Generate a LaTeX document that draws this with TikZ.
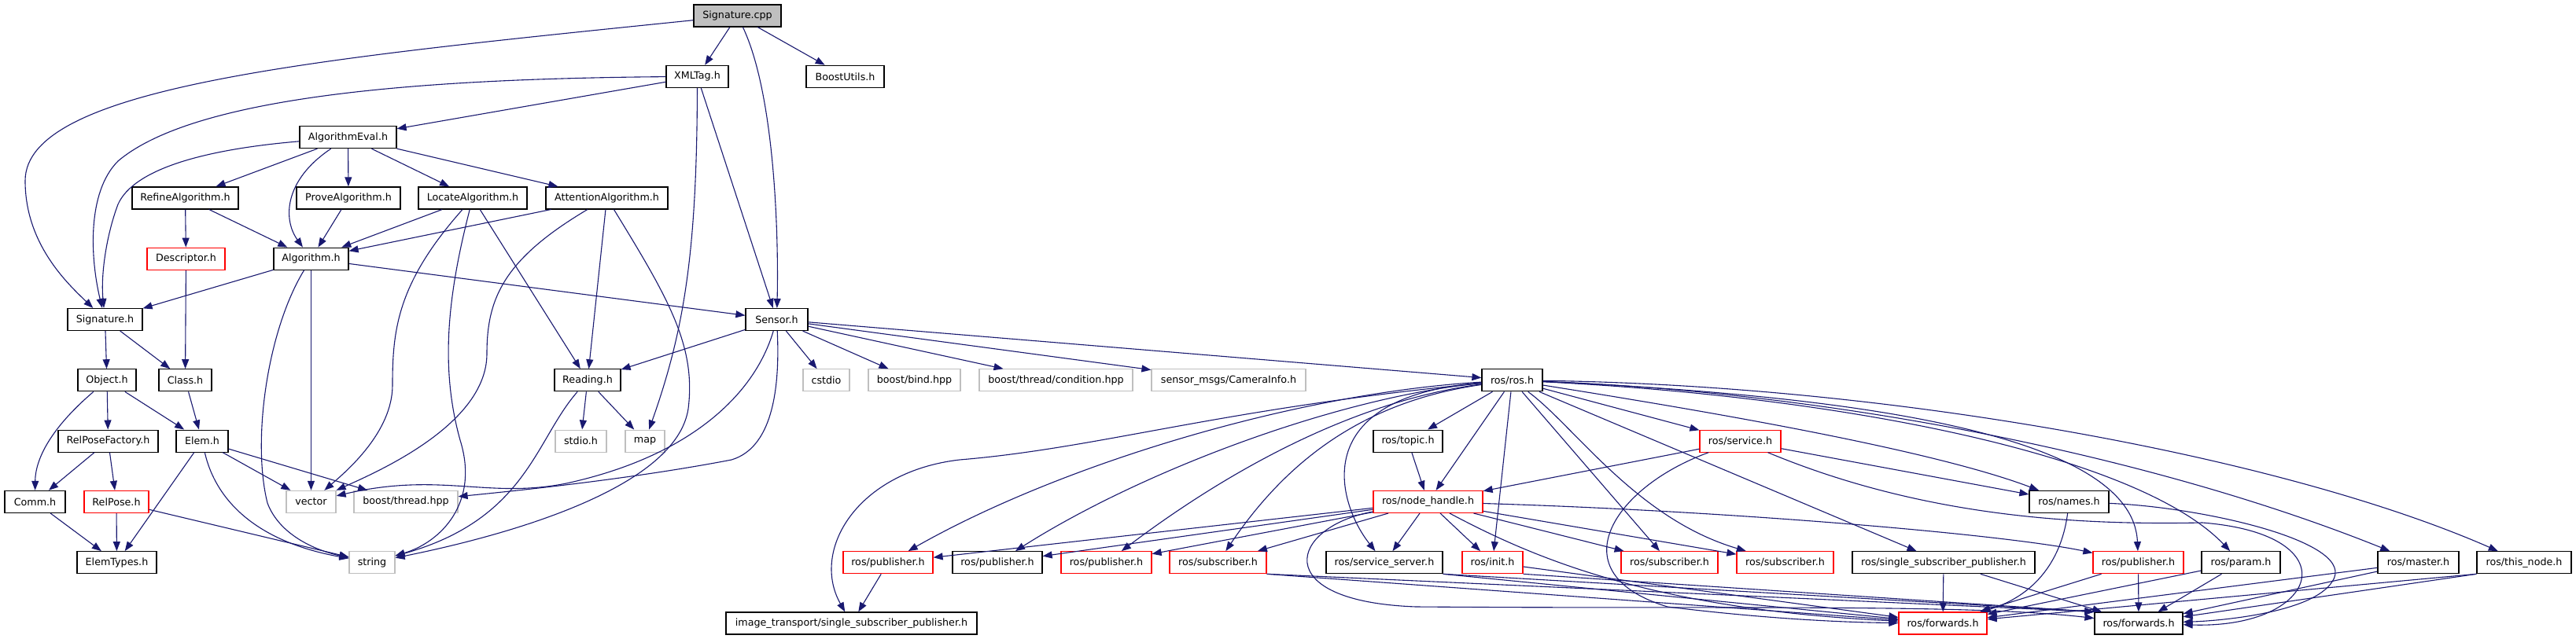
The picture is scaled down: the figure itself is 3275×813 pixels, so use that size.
\documentclass[tikz,border=0pt]{standalone}
\usepackage{fontspec}
\setmainfont{DejaVu Sans}
\usetikzlibrary{arrows.meta}

\definecolor{edgeblue}{HTML}{191970}
\definecolor{boxgray}{HTML}{BFBFBF}

\tikzset{
  file/.style={draw=black, line width=1.2pt, fill=white, inner sep=0pt,
    minimum width=#1, minimum height=28pt,
    font=\fontsize{12.7pt}{15pt}\selectfont},
  trunc/.style={file=#1, draw=red},
  sys/.style={file=#1, draw=boxgray},
  root/.style={file=#1, fill=boxgray},
  dep/.style={draw=edgeblue, line width=1.1pt,
    -{Triangle[length=12pt,width=9pt]}}
}

\begin{document}
\begin{tikzpicture}[x=1pt,y=-1pt]
\path[use as bounding box, fill=white] (0,0) rectangle (3275,813);

   % row 0 / 1
   \node[root=111pt] at (937.5,20) (cpp) {Signature.cpp};
   \node[file=79pt] at (886.5,97.3) (xml) {XMLTag.h};
   \node[file=99pt] at (1074.5,97.3) (butils) {BoostUtils.h};
   % row 2 / 3
   \node[file=123pt] at (442.5,174.6) (aeval) {AlgorithmEval.h};
   \node[file=135pt] at (235.5,251.9) (refine) {RefineAlgorithm.h};
   \node[file=132pt] at (443,251.9) (prove) {ProveAlgorithm.h};
   \node[file=138pt] at (601,251.9) (locate) {LocateAlgorithm.h};
   \node[file=155pt] at (771.5,251.9) (attn) {AttentionAlgorithm.h};
   % row 4 / 5
   \node[trunc=99pt] at (236.5,329.2) (descr) {Descriptor.h};
   \node[file=95pt] at (395.5,329.2) (algo) {Algorithm.h};
   \node[file=95pt] at (133.5,406.5) (sigh) {Signature.h};
   \node[file=79pt] at (987.5,406.5) (sensor) {Sensor.h};
   % row 6
   \node[file=74pt] at (136,483.8) (object) {Object.h};
   \node[file=67pt] at (235.5,483.8) (class) {Class.h};
   \node[file=84pt] at (747,483.8) (reading) {Reading.h};
   \node[sys=59pt] at (1050.5,483.8) (cstdio) {cstdio};
   \node[sys=117pt] at (1162.5,483.8) (bind) {boost/bind.hpp};
   \node[sys=195pt] at (1342.5,483.8) (cond) {boost/thread/condition.hpp};
   \node[sys=196pt] at (1562,483.8) (caminfo) {sensor\_msgs/CameraInfo.h};
   \node[file=77pt] at (1922.5,483.8) (rosh) {ros/ros.h};
   % row 7
   \node[file=127pt] at (137.5,561.1) (rpfact) {RelPoseFactory.h};
   \node[file=66pt] at (257,561.1) (elem) {Elem.h};
   \node[sys=65pt] at (738.5,561.1) (stdio) {stdio.h};
   \node[sys=50pt] at (820,561.1) (map) {map};
   \node[file=88pt] at (1790,561.1) (topic) {ros/topic.h};
   \node[trunc=103pt] at (2212.5,561.1) (service) {ros/service.h};
   % row 8
   \node[file=77pt] at (44.5,638.4) (comm) {Comm.h};
   \node[trunc=82pt] at (148,638.4) (relpose) {RelPose.h};
   \node[sys=63pt] at (395.5,638.4) (vector) {vector};
   \node[sys=132pt] at (516,638.4) (bthread) {boost/thread.hpp};
   \node[trunc=139pt] at (1815.5,638.4) (nodeh) {ros/node\_handle.h};
   \node[file=101pt] at (2630.5,638.4) (names) {ros/names.h};
   % row 9
   \node[file=101pt] at (148.5,715.7) (etypes) {ElemTypes.h};
   \node[sys=58pt] at (473,715.7) (string) {string};
   \node[trunc=114pt] at (1129,715.7) (pubA) {ros/publisher.h};
   \node[file=114pt] at (1268,715.7) (pubB) {ros/publisher.h};
   \node[trunc=115pt] at (1406.5,715.7) (pubC) {ros/publisher.h};
   \node[trunc=123pt] at (1548.5,715.7) (subA) {ros/subscriber.h};
   \node[file=148pt] at (1760,715.7) (srvsrv) {ros/service\_server.h};
   \node[trunc=77pt] at (1897.5,715.7) (init) {ros/init.h};
   \node[trunc=123pt] at (2122.5,715.7) (subB) {ros/subscriber.h};
   \node[trunc=123pt] at (2269.5,715.7) (subC) {ros/subscriber.h};
   \node[file=232pt] at (2471,715.7) (ssp) {ros/single\_subscriber\_publisher.h};
   \node[trunc=115pt] at (2718.5,715.7) (pubD) {ros/publisher.h};
   \node[file=100pt] at (2849,715.7) (param) {ros/param.h};
   \node[file=103pt] at (3074.5,715.7) (master) {ros/master.h};
   \node[file=120pt] at (3209,715.7) (thisnode) {ros/this\_node.h};
   % row 10
   \node[file=319pt] at (1082.5,793) (itssp) {image\_transport/single\_subscriber\_publisher.h};
   \node[trunc=112pt] at (2470,793) (fwdA) {ros/forwards.h};
   \node[file=112pt] at (2719,793) (fwdB) {ros/forwards.h};

   % Signature.cpp, XMLTag.h
   \draw[dep] (cpp) .. controls (400,75) and (32,110) .. (32,230) .. controls (32,310) and (85,360) .. (sigh);
   \draw[dep] (cpp) -- (xml);
   \draw[dep] (cpp) .. controls (985,120) and (990,300) .. (sensor);
   \draw[dep] (cpp) -- (butils);
   \draw[dep] (xml) .. controls (550,100) and (250,120) .. (150,205) .. controls (110,245) and (115,330) .. (sigh);
   \draw[dep] (xml) -- (aeval);
   \draw[dep] (xml) .. controls (886,320) and (870,420) .. (map);
   \draw[dep] (xml) -- (sensor);

   % algorithms
   \draw[dep] (aeval) .. controls (260,190) and (170,215) .. (150,260) .. controls (135,300) and (128,350) .. (sigh);
   \draw[dep] (aeval) -- (refine);
   \draw[dep] (aeval) .. controls (360,230) and (360,280) .. (algo);
   \draw[dep] (aeval) -- (prove);
   \draw[dep] (aeval) -- (locate);
   \draw[dep] (aeval) -- (attn);
   \draw[dep] (refine) -- (descr);
   \draw[dep] (refine) -- (algo);
   \draw[dep] (prove) -- (algo);
   \draw[dep] (locate) -- (algo);
   \draw[dep] (locate) .. controls (505,360) and (499,420) .. (499,490) .. controls (499,550) and (440,600) .. (vector);
   \draw[dep] (locate) .. controls (568,380) and (560,470) .. (585,560) .. controls (610,640) and (560,690) .. (string);
   \draw[dep] (locate) -- (reading);
   \draw[dep] (attn) -- (algo);
   \draw[dep] (attn) .. controls (640,330) and (619,380) .. (619,450) .. controls (619,540) and (480,600) .. (vector);
   \draw[dep] (attn) -- (reading);
   \draw[dep] (attn) .. controls (850,380) and (885,440) .. (875,520) .. controls (860,620) and (650,680) .. (string);
   \draw[dep] (descr) -- (class);
   \draw[dep] (algo) -- (sigh);
   \draw[dep] (algo) -- (sensor);
   \draw[dep] (algo) .. controls (340,420) and (320,560) .. (340,640) .. controls (355,680) and (400,700) .. (string);
   \draw[dep] (algo) -- (vector);

   % Signature.h and below
   \draw[dep] (sigh) -- (object);
   \draw[dep] (sigh) -- (class);
   \draw[dep] (object) .. controls (70,540) and (45,580) .. (comm);
   \draw[dep] (object) -- (rpfact);
   \draw[dep] (object) -- (elem);
   \draw[dep] (class) -- (elem);
   \draw[dep] (rpfact) -- (comm);
   \draw[dep] (rpfact) -- (relpose);
   \draw[dep] (elem) -- (etypes);
   \draw[dep] (elem) .. controls (275,640) and (330,690) .. (string);
   \draw[dep] (elem) -- (vector);
   \draw[dep] (elem) -- (bthread);
   \draw[dep] (comm) -- (etypes);
   \draw[dep] (relpose) -- (etypes);
   \draw[dep] (relpose) -- (string);
   \draw[dep] (reading) -- (stdio);
   \draw[dep] (reading) -- (map);
   \draw[dep] (reading) .. controls (680,560) and (670,660) .. (string);

   % Sensor.h
   \draw[dep] (sensor) -- (reading);
   \draw[dep] (sensor) .. controls (960,500) and (880,580) .. (720,615) .. controls (620,635) and (560,600) .. (vector);
   \draw[dep] (sensor) .. controls (992,500) and (980,570) .. (930,585) .. controls (800,610) and (650,625) .. (bthread);
   \draw[dep] (sensor) -- (cstdio);
   \draw[dep] (sensor) -- (bind);
   \draw[dep] (sensor) -- (cond);
   \draw[dep] (sensor) -- (caminfo);
   \draw[dep] (sensor) -- (rosh);

   % ros/ros.h
   \draw[dep] (rosh) .. controls (1550,520) and (1400,570) .. (1220,585) .. controls (1090,600) and (1030,700) .. (itssp);
   \draw[dep] (rosh) .. controls (1650,500) and (1350,590) .. (pubA);
   \draw[dep] (rosh) .. controls (1700,505) and (1450,600) .. (pubB);
   \draw[dep] (rosh) .. controls (1720,510) and (1560,600) .. (pubC);
   \draw[dep] (rosh) .. controls (1740,510) and (1640,580) .. (subA);
   \draw[dep] (rosh) .. controls (1660,505) and (1700,640) .. (srvsrv);
   \draw[dep] (rosh) -- (topic);
   \draw[dep] (rosh) -- (nodeh);
   \draw[dep] (rosh) -- (init);
   \draw[dep] (rosh) -- (subB);
   \draw[dep] (rosh) .. controls (2000,540) and (2080,660) .. (subC);
   \draw[dep] (rosh) -- (service);
   \draw[dep] (rosh) -- (ssp);
   \draw[dep] (rosh) .. controls (2150,520) and (2450,570) .. (names);
   \draw[dep] (rosh) .. controls (2400,505) and (2712,560) .. (pubD);
   \draw[dep] (rosh) .. controls (2350,505) and (2720,580) .. (param);
   \draw[dep] (rosh) .. controls (2350,500) and (2750,585) .. (master);
   \draw[dep] (rosh) .. controls (2400,490) and (2900,580) .. (thisnode);
   \draw[dep] (topic) -- (nodeh);

   % ros/service.h, ros/names.h
   \draw[dep] (service) -- (nodeh);
   \draw[dep] (service) -- (names);
   \draw[dep] (service) .. controls (2050,620) and (1980,730) .. (2120,772) .. controls (2250,788) and (2350,792) .. (fwdA);
   \draw[dep] (service) .. controls (2450,660) and (2650,668) .. (2800,665) .. controls (2990,680) and (2950,800) .. (fwdB);
   \draw[dep] (names) .. controls (2620,720) and (2580,760) .. (fwdA);
   \draw[dep] (names) .. controls (2800,645) and (3000,690) .. (2965,740) .. controls (2940,780) and (2820,790) .. (fwdB);

   % ros/node_handle.h
   \draw[dep] (nodeh) -- (pubA);
   \draw[dep] (nodeh) -- (pubB);
   \draw[dep] (nodeh) -- (pubC);
   \draw[dep] (nodeh) -- (subA);
   \draw[dep] (nodeh) -- (srvsrv);
   \draw[dep] (nodeh) -- (init);
   \draw[dep] (nodeh) -- (subB);
   \draw[dep] (nodeh) -- (subC);
   \draw[dep] (nodeh) .. controls (2200,650) and (2550,680) .. (pubD);
   \draw[dep] (nodeh) .. controls (1950,710) and (2100,775) .. (fwdA);
   \draw[dep] (nodeh) .. controls (1640,670) and (1610,765) .. (1800,772) .. controls (2200,775) and (2500,768) .. (fwdB);

   % bottom row
   \draw[dep] (pubA) -- (itssp);
   \draw[dep] (subA.south east) -- (fwdA);
   \draw[dep] (subA.south east) -- (fwdB.north west);
   \draw[dep] (srvsrv.south east) -- (fwdA);
   \draw[dep] (srvsrv.south east) -- (fwdB.north west);
   \draw[dep] (init) -- (fwdA);
   \draw[dep] (init.south east) -- (fwdB.north west);
   \draw[dep] (ssp) -- (fwdA);
   \draw[dep] (ssp) -- (fwdB);
   \draw[dep] (pubD) -- (fwdA);
   \draw[dep] (pubD) -- (fwdB);
   \draw[dep] (param) -- (fwdA);
   \draw[dep] (param) -- (fwdB);
   \draw[dep] (master) -- (fwdA);
   \draw[dep] (master) -- (fwdB);
   \draw[dep] (thisnode.south west) -- (fwdA);
   \draw[dep] (thisnode.south west) -- (fwdB);

\end{tikzpicture}
\end{document}
